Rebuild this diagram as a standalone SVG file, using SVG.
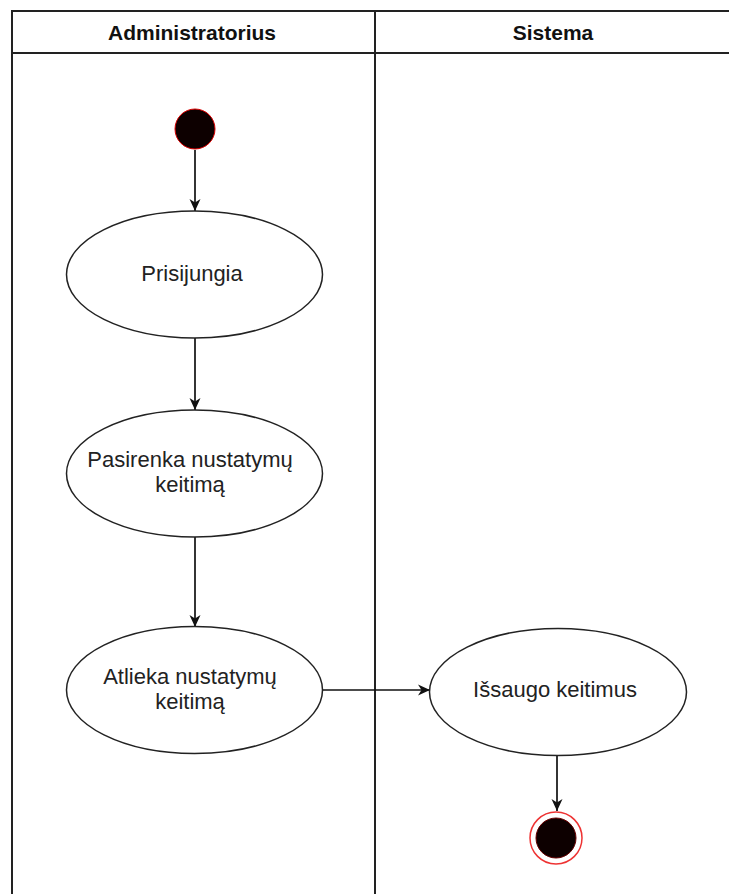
<svg xmlns="http://www.w3.org/2000/svg" width="729" height="894" viewBox="0 0 729 894">
  <defs>
    <marker id="arrow" viewBox="0 0 12 12" refX="12" refY="6" markerWidth="12" markerHeight="12" markerUnits="userSpaceOnUse" orient="auto">
      <path d="M0,0.5 L12,6 L0,11.5 L3.5,6 Z" fill="#111"/>
    </marker>
    <style>
      .lane { fill: none; stroke: #222; stroke-width: 2; }
      .head { font-family: "Liberation Sans", Arial, sans-serif; font-weight: bold; font-size: 21px; fill: #111; text-anchor: middle; }
      .act { fill: #fff; stroke: #222; stroke-width: 1.5; }
      .lbl { font-family: "Liberation Sans", Arial, sans-serif; font-size: 22px; fill: #222; text-anchor: middle; }
      .edge { fill: none; stroke: #111; stroke-width: 1.7; marker-end: url(#arrow); }
    </style>
  </defs>
  <rect width="729" height="894" fill="#fff"/>

  <!-- swimlanes -->
  <g id="lanes">
    <path class="lane" d="M12,900 V11 H740 M12,53 H740 M375,11 V900"/>
    <text class="head" x="192" y="40">Administratorius</text>
    <text class="head" x="553" y="40">Sistema</text>
  </g>

  <!-- connectors -->
  <g id="connectors">
    <line class="edge" x1="195" y1="150" x2="195" y2="211"/>
    <line class="edge" x1="195" y1="338" x2="195" y2="410"/>
    <line class="edge" x1="195" y1="537" x2="195" y2="627"/>
    <line class="edge" x1="322" y1="690" x2="430" y2="690"/>
    <line class="edge" x1="557" y1="755" x2="557" y2="811"/>
  </g>

  <g id="start">
    <circle cx="195" cy="129" r="20" fill="#0d0000" stroke="#d00" stroke-width="1"/>
  </g>

  <g id="prisijungia">
    <ellipse class="act" cx="194.5" cy="274.5" rx="128" ry="63.5"/>
    <text class="lbl" x="192" y="281">Prisijungia</text>
  </g>

  <g id="pasirenka">
    <ellipse class="act" cx="194.5" cy="473.5" rx="128" ry="63.5"/>
    <text class="lbl" x="190" y="467">Pasirenka nustatymų</text>
    <text class="lbl" x="190" y="492">keitimą</text>
  </g>

  <g id="atlieka">
    <ellipse class="act" cx="194.5" cy="690" rx="128" ry="63.5"/>
    <text class="lbl" x="190" y="684">Atlieka nustatymų</text>
    <text class="lbl" x="190" y="709">keitimą</text>
  </g>

  <g id="issaugo">
    <ellipse class="act" cx="558" cy="692" rx="128.5" ry="63.5"/>
    <text class="lbl" x="555" y="697">Išsaugo keitimus</text>
  </g>

  <g id="end">
    <circle cx="556" cy="838" r="26" fill="#fff" stroke="#e33" stroke-width="1.5"/>
    <circle cx="556" cy="838" r="20" fill="#0d0000" stroke="#600" stroke-width="1"/>
  </g>
</svg>
